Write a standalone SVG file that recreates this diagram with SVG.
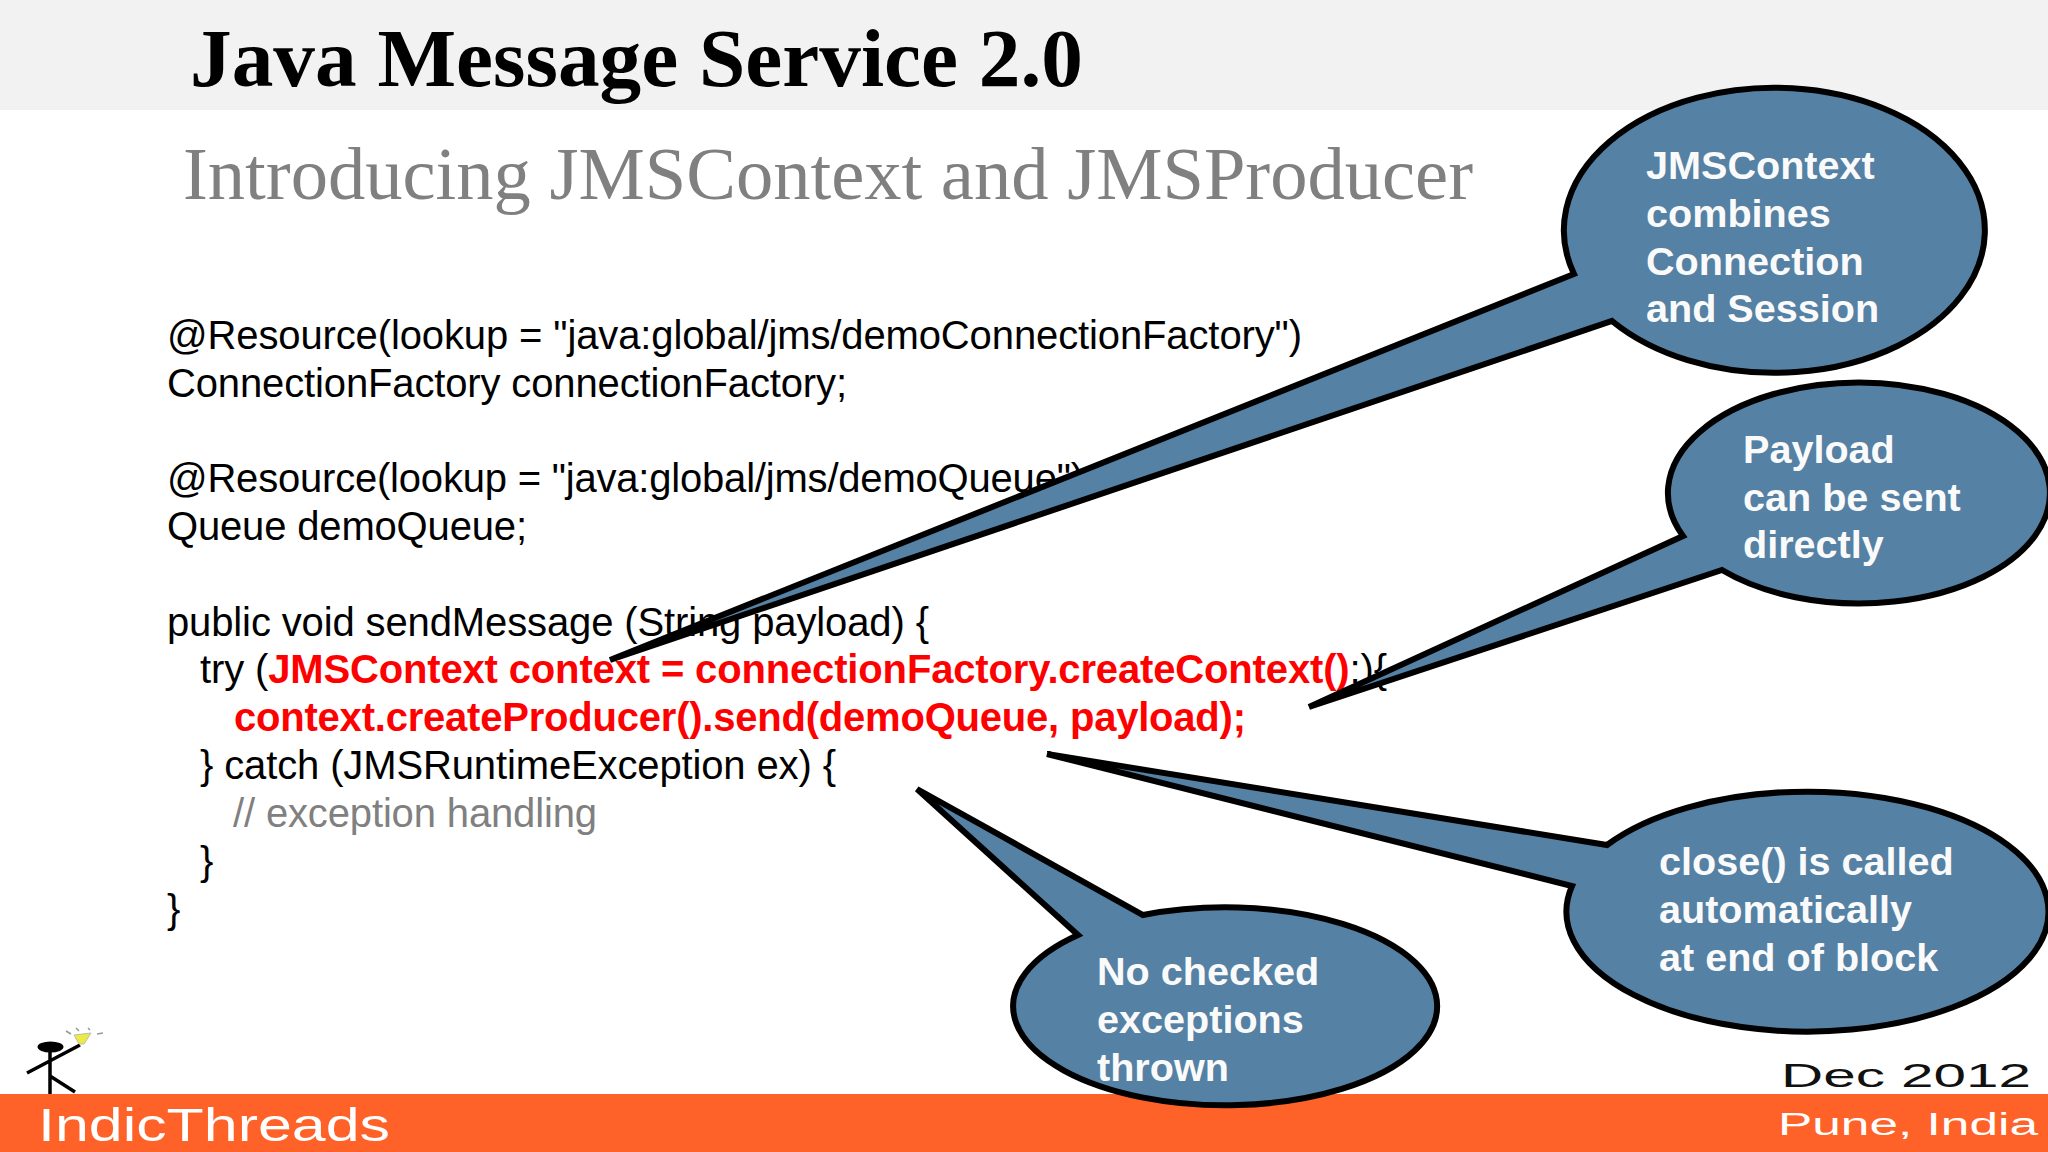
<svg xmlns="http://www.w3.org/2000/svg" width="2048" height="1152" viewBox="0 0 2048 1152">
<style>
.code{font-family:"Liberation Sans",Arial,sans-serif;font-size:40px;fill:#000}
.red{fill:#f00;font-weight:bold}
.gray{fill:#808080}
.call{fill:#5581a4;stroke:#000;stroke-width:6;stroke-linejoin:miter}
.ct{font-family:"Liberation Sans",Arial,sans-serif;font-weight:bold;font-size:39.600px;fill:#fafafa}
.foot{font-family:"Liberation Sans",sans-serif}
</style>
<rect width="2048" height="1152" fill="#fff"/>
<rect width="2048" height="110" fill="#f2f2f2"/>
<text x="190" y="86" font-family="Liberation Serif,serif" font-weight="bold" font-size="82" textLength="893" lengthAdjust="spacingAndGlyphs" fill="#000">Java Message Service 2.0</text>
<text x="183" y="199" font-family="Liberation Serif,serif" font-size="73" textLength="1290" lengthAdjust="spacingAndGlyphs" fill="#808080">Introducing JMSContext and JMSProducer</text>
<g id="code">
<text class="code" x="167" y="349" textLength="1135">@Resource(lookup = "java:global/jms/demoConnectionFactory")</text>
<text class="code" x="167" y="397" textLength="680">ConnectionFactory connectionFactory;</text>
<text class="code" x="167" y="492" textLength="917">@Resource(lookup = "java:global/jms/demoQueue")</text>
<text class="code" x="167" y="540" textLength="360">Queue demoQueue;</text>
<text class="code" x="167" y="636" textLength="762">public void sendMessage (String payload) {</text>
<text class="code" x="200" y="683" textLength="1187">try (<tspan class="red">JMSContext context = connectionFactory.createContext()</tspan>;){</text>
<text class="code red" x="234" y="731" textLength="1012">context.createProducer().send(demoQueue, payload);</text>
<text class="code" x="200" y="779" textLength="636">} catch (JMSRuntimeException ex) {</text>
<text class="code gray" x="233" y="827" textLength="364">// exception handling</text>
<text class="code" x="200" y="875">}</text>
<text class="code" x="167" y="923">}</text>
</g>
<g id="connectors"></g>
<g id="callout-context">
<path class="call" d="M1574 274A210.500 142.500 0 1 1 1612 321L610 660Z"/>
<text class="ct" x="1646" y="179">JMSContext</text>
<text class="ct" x="1646" y="227">combines</text>
<text class="ct" x="1646" y="275">Connection</text>
<text class="ct" x="1646" y="322">and Session</text>
</g>
<g id="callout-payload">
<path class="call" d="M1683 536A191 110.500 0 1 1 1722 570L1309 707Z"/>
<text class="ct" x="1743" y="463">Payload</text>
<text class="ct" x="1743" y="511">can be sent</text>
<text class="ct" x="1743" y="558">directly</text>
</g>
<g id="callout-close">
<path class="call" d="M1607 845A241 120 0 1 1 1572 886L1047 754Z"/>
<text class="ct" x="1659" y="875">close() is called</text>
<text class="ct" x="1659" y="923">automatically</text>
<text class="ct" x="1659" y="971">at end of block</text>
</g>
<g id="footer">
<rect y="1094" width="2048" height="58" fill="#ff6228"/>
<text class="foot" x="38" y="1141" font-size="47" textLength="352" lengthAdjust="spacingAndGlyphs" fill="#fff">IndicThreads</text>
<text class="foot" x="1781" y="1087" font-size="33" textLength="250" lengthAdjust="spacingAndGlyphs" fill="#111">Dec 2012</text>
<text class="foot" x="1778" y="1135" font-size="31" textLength="260" lengthAdjust="spacingAndGlyphs" fill="#fff">Pune, India</text>
</g>
<g id="callout-checked">
<path class="call" d="M1078 935L917 789L1143 915A212 99 0 1 1 1078 935Z"/>
<text class="ct" x="1097" y="985">No checked</text>
<text class="ct" x="1097" y="1033">exceptions</text>
<text class="ct" x="1097" y="1081">thrown</text>
</g>
<g id="logo">
<ellipse cx="50.500" cy="1047" rx="13" ry="5.500" fill="#000"/>
<path d="M50 1050V1094M27 1073L80 1045M50 1076L75 1092" stroke="#000" stroke-width="3.500" fill="none"/>
<path d="M74 1035L91 1033L84 1044L79 1044Z" fill="#ecec40" stroke="#bbb" stroke-width="1"/>
<path d="M66 1031L71 1034M76 1028L79 1031M88 1028L90 1030M97 1034L103 1033" stroke="#999" stroke-width="1.500" fill="none"/>
</g>
</svg>
